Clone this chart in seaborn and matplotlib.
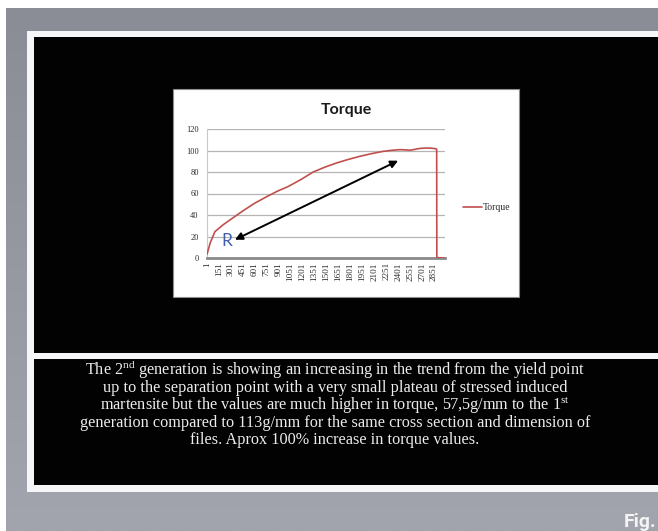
import numpy as np
import matplotlib
matplotlib.use("Agg")
import matplotlib.pyplot as plt
import seaborn as sns
from matplotlib.patches import Rectangle
from matplotlib.colors import LinearSegmentedColormap

# ---- data: torque trace of the 2nd generation file ----
sample_no = [1, 40, 100, 205, 300, 455, 600, 749, 880, 1020, 1180, 1334,
             1480, 1627, 1770, 1920, 2060, 2212, 2320, 2422, 2490, 2547,
             2600, 2651, 2700, 2757, 2810, 2870, 2884, 2886, 2940, 2988]
torque = [3.5, 14, 24.5, 31, 36, 44, 51, 57, 62, 66.5, 73, 80,
          84.5, 88.4, 91.6, 94.6, 97, 99.2, 100.2, 100.8, 100.6, 100.2,
          100.9, 101.7, 102.1, 102.3, 102.2, 101.7, 101.2, 0.5, 0, 0]
x_tick_values = [1, 151, 301, 451, 601, 751, 901, 1051, 1201, 1351, 1501,
                 1651, 1801, 1951, 2101, 2251, 2401, 2551, 2701, 2851]
y_tick_values = [0, 20, 40, 60, 80, 100, 120]
n_samples = 2988

# arrow showing the rising trend, and the "R" marker near its tail
arrow_tail = (351, 17)
arrow_head = (2400, 90.5)
r_label_pos = (251, 16)

caption_lines = [
    r"The 2$^{\mathrm{nd}}$ generation is showing an increasing in the trend from the yield point",
    "up to the separation point with a very small plateau of stressed induced",
    r"martensite but the values are much higher in torque, 57,5g/mm to the 1$^{\mathrm{st}}$",
    "generation compared to 113g/mm for the same cross section and dimension of",
    "files. Aprox 100% increase in torque values.",
]

sns.set_theme(style="white")
plt.rcParams["mathtext.fontset"] = "custom"
plt.rcParams["mathtext.rm"] = "Liberation Serif"

W, H = 658, 531
fig = plt.figure(figsize=(W / 100, H / 100), dpi=100)
fig.patch.set_facecolor("white")

# background layer in pixel coordinates (y grows downward)
bg = fig.add_axes([0, 0, 1, 1])
grad = LinearSegmentedColormap.from_list("slate", ["#8a8d96", "#a2a4ae"])
bg.imshow(np.linspace(0, 1, 256).reshape(-1, 1), extent=(6, W, H, 8),
          cmap=grad, aspect="auto", interpolation="bilinear")
bg.set_xlim(0, W)
bg.set_ylim(H, 0)
bg.axis("off")

bg.add_patch(Rectangle((27, 31), W - 27, 461, fc="#f6f6f8", ec="none"))
bg.add_patch(Rectangle((34, 37), W - 34, 316, fc="#020202", ec="none"))
bg.add_patch(Rectangle((34, 359), W - 34, 126, fc="#020202", ec="none"))
bg.add_patch(Rectangle((173, 89), 346, 208, fc="white", ec="#8c8c8c", lw=0.8))

# chart plot area
ax = fig.add_axes([207 / W, 1 - 258 / H, (445 - 207) / W, (258 - 129) / H])
ax.set_facecolor("white")
for y in y_tick_values[1:]:
    ax.axhline(y, color="#b4b4b4", lw=0.9, zorder=0)

sns.lineplot(x=sample_no, y=torque, ax=ax, color="#c0504d", lw=1.2,
             label="Torque", zorder=3)

ax.set_xlim(0.5, n_samples + 0.5)
ax.set_ylim(0, 120)
ax.set_xticks(x_tick_values)
ax.set_xticklabels([str(v) for v in x_tick_values], rotation=90,
                   fontsize=6.6, family="Liberation Serif", color="#2a2a2a")
ax.set_yticks(y_tick_values)
ax.set_yticklabels([str(v) for v in y_tick_values], fontsize=6,
                   family="Liberation Serif", color="#2a2a2a")
ax.tick_params(axis="both", length=0)
ax.tick_params(axis="x", pad=3)
ax.tick_params(axis="y", pad=6)
ax.set_xlabel("")
ax.set_ylabel("")
for side in ["top", "right"]:
    ax.spines[side].set_visible(False)
ax.spines["left"].set_color("#c8c8c8")
ax.spines["left"].set_linewidth(0.8)
ax.spines["bottom"].set_color("#8a8a8a")
ax.spines["bottom"].set_linewidth(2.0)

ax.annotate("", xy=arrow_head, xytext=arrow_tail,
            arrowprops=dict(arrowstyle="<|-|>", color="black", lw=1.4,
                            mutation_scale=11, shrinkA=0, shrinkB=0), zorder=4)
ax.text(*r_label_pos, "R", ha="center", va="center", fontsize=12.5,
        family="Lato", color="#3f5fae", zorder=5)

leg = ax.legend(loc="center left", bbox_to_anchor=(458 / W, 1 - 208 / H),
                bbox_transform=fig.transFigure, frameon=False, borderpad=0,
                handlelength=2.0, handletextpad=0.1,
                prop={"family": "Liberation Serif", "size": 7})
for t in leg.get_texts():
    t.set_color("#2a2a2a")

fig.text(346 / W, 1 - 110 / H, "Torque", ha="center", va="center",
         fontsize=11.5, fontweight="bold", family="Lato", color="#1a1a1a")

# caption under the chart
line_y = [370, 388, 405, 423, 440]
for txt, yy in zip(caption_lines, line_y):
    fig.text(335 / W, 1 - yy / H, txt, ha="center", va="center",
             fontsize=11.7, family="Liberation Serif", color="#ececec")

fig.text(656 / W, 1 - 527 / H, "Fig.", ha="right", va="baseline",
         fontsize=14, fontweight="bold",
         family=["Roboto", "DejaVu Sans"], color="#f4f4f4")

fig.savefig("out.png", dpi=100)
